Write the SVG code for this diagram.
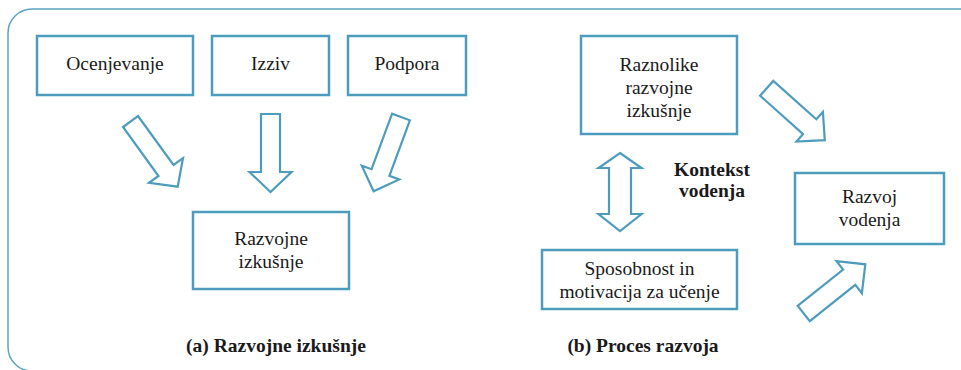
<svg xmlns="http://www.w3.org/2000/svg" width="961" height="370" viewBox="0 0 961 370">
  <style>
    .frame { fill: none; stroke: #5aa3c2; stroke-width: 1.5; }
    .box { fill: #ffffff; stroke: #4e9cbd; stroke-width: 2.5; }
    .arrow { fill: #ffffff; stroke: #4e9cbd; stroke-width: 2.2; stroke-linejoin: miter; }
    text { font-size: 19.5px; fill: #1a1a1a; text-anchor: middle; }
    .bold { font-weight: bold; }
  </style>

  <!-- outer rounded frame -->
  <rect class="frame" x="8" y="9" width="975" height="362" rx="24" ry="24"/>

  <!-- connectors: hollow block arrows -->
  <g id="connectors">
    <polygon class="arrow" points="138,116 173.5,165 183,158.2 177.7,186.7 149,182.8 158.5,176 123,127"/>
    <polygon class="arrow" points="261,114 280,114 280,172 291.5,172 270.5,192 249.5,172 261,172"/>
    <polygon class="arrow" points="409.9,120.3 389.4,175.8 399.2,179.4 373.6,191.2 361.8,165.6 371.6,169.2 392.1,113.7"/>
    <polygon class="arrow" points="620,153 641.5,168 631,168 631,214 641.5,214 620,231 598.5,214 609,214 609,168 598.5,168"/>
    <polygon class="arrow" points="773.3,80.9 816.3,119.3 822.9,111.9 824.8,140.2 796.5,141.5 803.1,134.1 760.1,95.7"/>
    <polygon class="arrow" points="797.6,305.8 843.1,269.5 836.5,261.2 865.3,264.3 861.9,293.2 855.3,284.9 809.8,321.2"/>
  </g>

  <g font-family="'Liberation Serif', 'DejaVu Serif', serif">
    <!-- (a) nodes -->
    <g id="ocenjevanje">
      <rect class="box" x="37" y="36" width="156" height="59"/>
      <text x="115" y="70">Ocenjevanje</text>
    </g>
    <g id="izziv">
      <rect class="box" x="212" y="36" width="117" height="59"/>
      <text x="270.5" y="70">Izziv</text>
    </g>
    <g id="podpora">
      <rect class="box" x="348" y="36" width="118" height="59"/>
      <text x="407" y="70">Podpora</text>
    </g>
    <g id="razvojne-izkusnje">
      <rect class="box" x="193" y="212" width="156" height="77"/>
      <text x="271" y="245">Razvojne</text>
      <text x="271" y="268">izkušnje</text>
    </g>
    <g id="caption-a">
      <text class="bold" x="276" y="352">(a) Razvojne izkušnje</text>
    </g>

    <!-- (b) nodes -->
    <g id="raznolike">
      <rect class="box" x="581" y="36" width="156" height="98"/>
      <text x="659" y="71">Raznolike</text>
      <text x="659" y="94">razvojne</text>
      <text x="659" y="117">izkušnje</text>
    </g>
    <g id="razvoj-vodenja">
      <rect class="box" x="795" y="173" width="149" height="71"/>
      <text x="869.5" y="203">Razvoj</text>
      <text x="869.5" y="226">vodenja</text>
    </g>
    <g id="sposobnost">
      <rect class="box" x="542" y="250" width="195" height="59"/>
      <text x="639.5" y="275">Sposobnost in</text>
      <text x="639.5" y="298">motivacija za učenje</text>
    </g>
    <g id="kontekst">
      <text class="bold" x="712" y="176">Kontekst</text>
      <text class="bold" x="712" y="197">vodenja</text>
    </g>
    <g id="caption-b">
      <text class="bold" x="643" y="352">(b) Proces razvoja</text>
    </g>
  </g>
</svg>
